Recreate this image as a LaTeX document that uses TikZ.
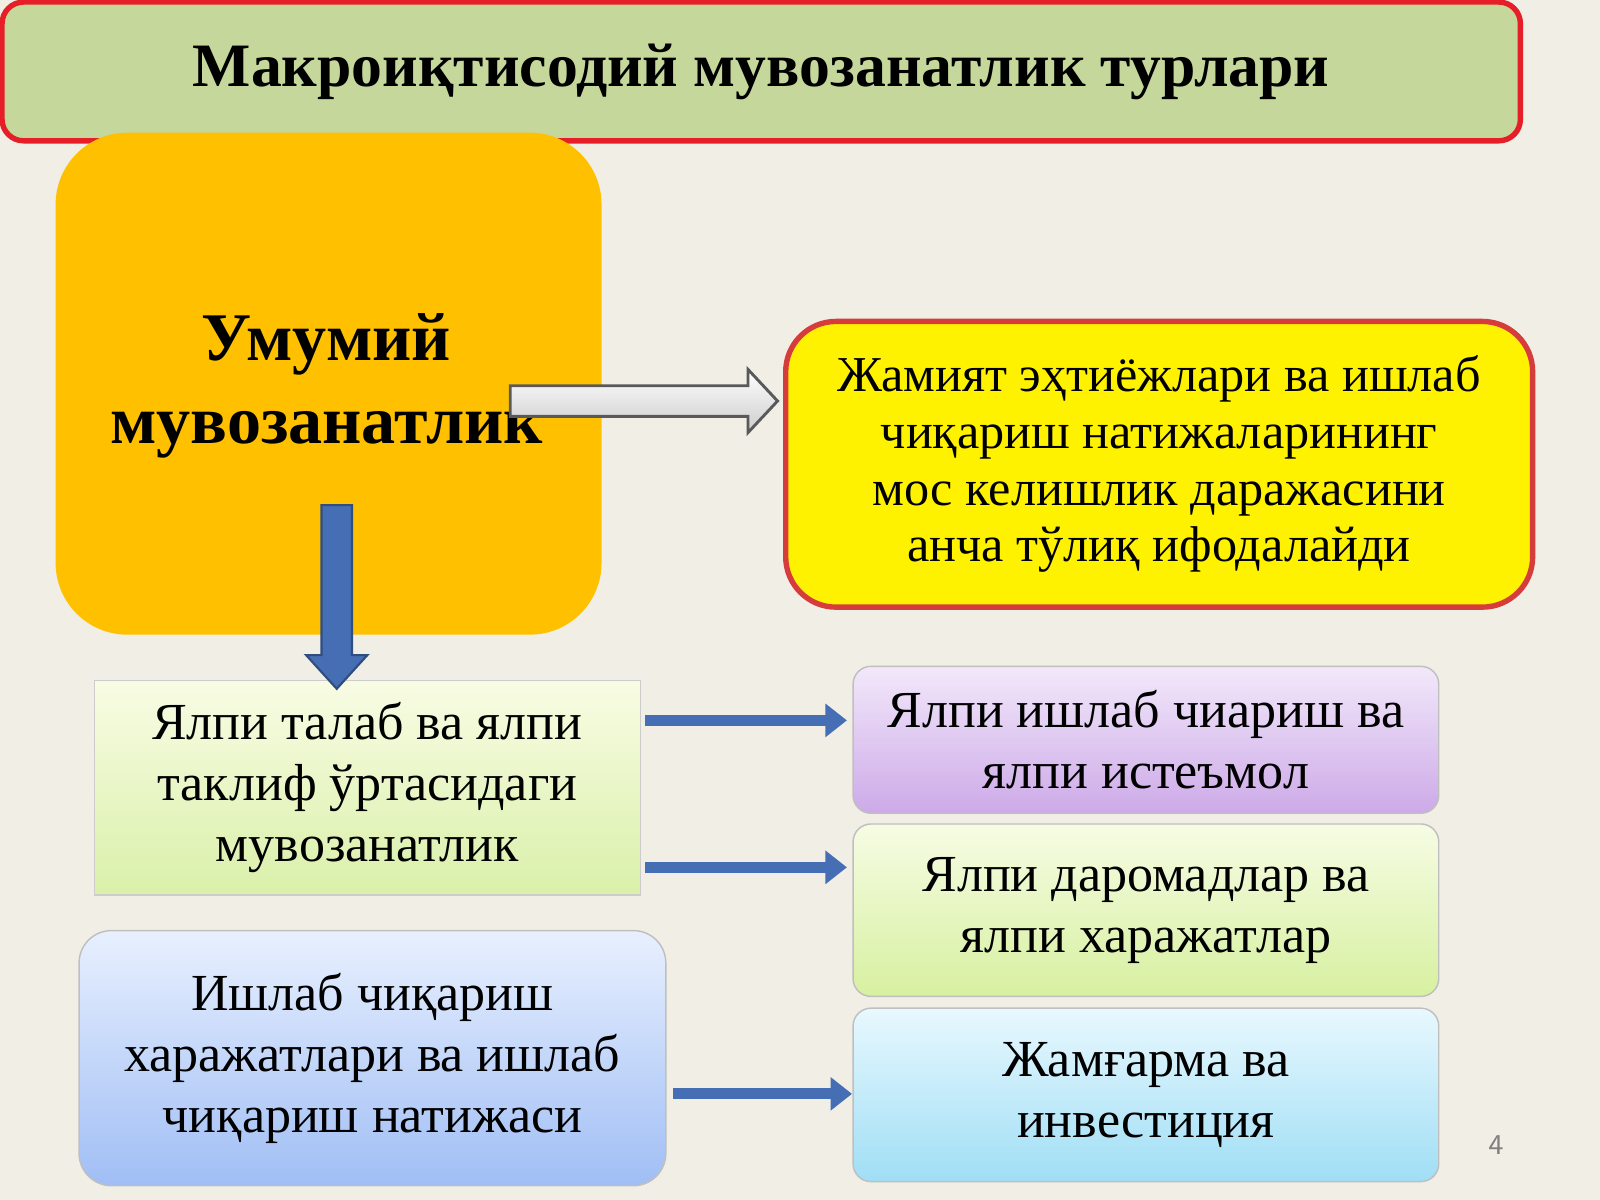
\documentclass[tikz,border=0pt]{standalone}
\usepackage{fontspec}
\setmainfont{Liberation Serif}
\usetikzlibrary{arrows.meta}
\definecolor{bg}{RGB}{241,238,230}
\definecolor{arrblue}{RGB}{70,110,180}
\definecolor{titlered}{RGB}{230,30,40}
\definecolor{titlegreen}{RGB}{197,215,155}
\definecolor{orng}{RGB}{255,192,0}
\definecolor{yred}{RGB}{215,60,60}
\begin{document}
\begin{tikzpicture}[x=0.01cm,y=-0.01cm,
 txt/.style={font=\fontsize{14.5}{17}\selectfont, align=center}]
\fill[bg] (0,0) rectangle (1568,1176);
\useasboundingbox (0,0) rectangle (1568,1176);
% title
\node[draw=titlered, line width=1.5pt, fill=titlegreen, rounded corners=6pt, minimum width=1488*0.01cm, minimum height=136*0.01cm, font=\fontsize{17.2}{20}\selectfont\bfseries] (title) at (746,70) {Макроиқтисодий мувозанатлик турлари};
% orange
\node[fill=orng, rounded corners=20pt, minimum width=535*0.01cm, minimum height=492*0.01cm] (orange) at (322,376) {};
\node[font=\fontsize{19}{23}\selectfont\bfseries, align=center] (otext) at (320,378) {Умумий\\мувозанатлик};
% yellow box
\node[draw=yred, line width=1.5pt, fill=yellow, rounded corners=14pt, minimum width=732*0.01cm, minimum height=280*0.01cm, font=\fontsize{14}{15.8}\selectfont, align=center] (yel) at (1136,455) {Жамият эҳтиёжлари ва ишлаб\\чиқариш натижаларининг\\мос келишлик даражасини\\анча тўлиқ ифодалайди};
% grey arrow
\draw[draw=gray!70!black, top color=white, bottom color=gray!40, line width=0.8pt]
 (500,378) -- (733,378) -- (733,362) -- (762,393) -- (733,424) -- (733,408) -- (500,408) -- cycle;
% left green box
\node[draw=gray!40, top color={rgb,255:red,248;green,252;blue,228}, bottom color={rgb,255:red,218;green,240;blue,170}, minimum width=535*0.01cm, minimum height=210*0.01cm, txt] (lg) at (360,772) {Ялпи талаб ва ялпи\\таклиф ўртасидаги\\мувозанатлик};
% down arrow
\draw[draw=arrblue!70!black, fill=arrblue, line width=0.6pt]
 (315,495) -- (345,495) -- (345,642) -- (360,642) -- (330,675) -- (300,642) -- (315,642) -- cycle;
% right boxes
\node[draw=gray!50, rounded corners=5pt, top color={rgb,255:red,242;green,232;blue,250}, bottom color={rgb,255:red,205;green,170;blue,232}, minimum width=574*0.01cm, minimum height=144*0.01cm, txt] (purp) at (1123,725) {Ялпи ишлаб чиариш ва\\ялпи истеъмол};
\node[draw=gray!50, rounded corners=5pt, top color={rgb,255:red,246;green,252;blue,228}, bottom color={rgb,255:red,215;green,240;blue,160}, minimum width=574*0.01cm, minimum height=169*0.01cm, txt] (grn) at (1123,892) {Ялпи даромадлар ва\\ялпи харажатлар};
\node[draw=gray!50, rounded corners=5pt, top color={rgb,255:red,232;green,248;blue,254}, bottom color={rgb,255:red,160;green,222;blue,245}, minimum width=574*0.01cm, minimum height=170*0.01cm, txt] (cyan) at (1123,1073) {Жамғарма ва\\инвестиция};
\node[draw=gray!50, rounded corners=9pt, top color={rgb,255:red,232;green,240;blue,254}, bottom color={rgb,255:red,160;green,190;blue,245}, minimum width=575*0.01cm, minimum height=250*0.01cm, txt] (blue) at (365,1037) {Ишлаб чиқариш\\харажатлари ва ишлаб\\чиқариш натижаси};
% blue horizontal arrows
\foreach \n/\a/\b/\y in {a1/632/830/706, a2/632/830/850, a3/660/835/1072}{
 \coordinate (\n s) at (\a,\y); \coordinate (\n e) at (\b,\y);
 \draw[line width=3pt, arrblue, -{Triangle[length=6pt,width=9pt]}] (\n s) -- (\n e);
}
\node[text=gray, font=\fontsize{8}{10}\selectfont\sffamily] (pg) at (1466,1122) {4};
\end{tikzpicture}
\end{document}
